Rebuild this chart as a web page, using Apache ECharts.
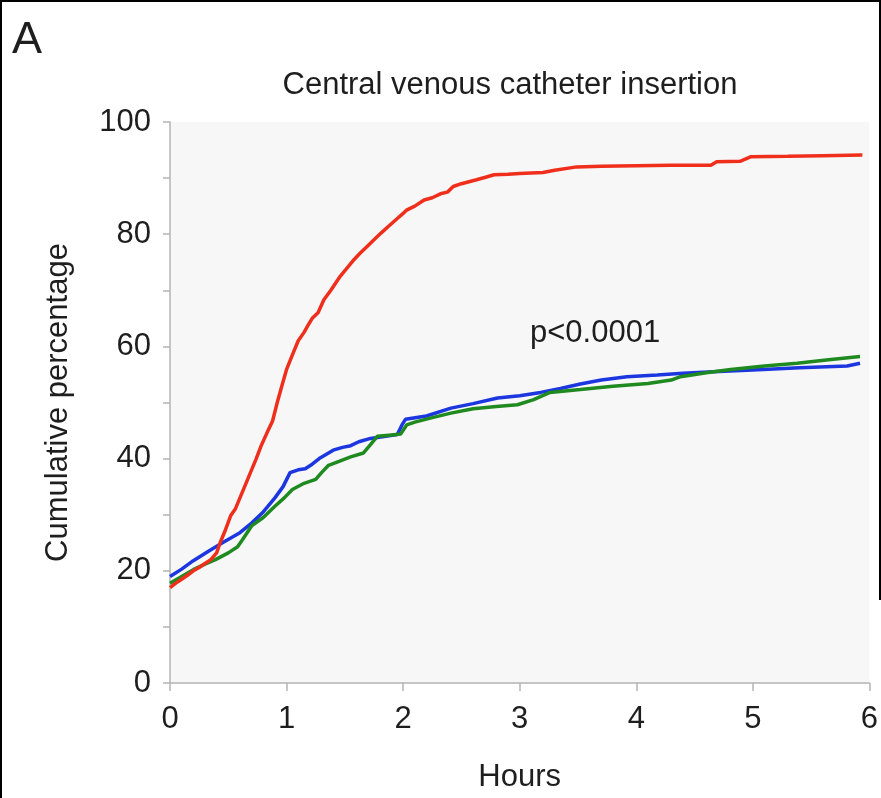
<!DOCTYPE html>
<html>
<head>
<meta charset="utf-8">
<script src="https://cdn.jsdelivr.net/npm/echarts@6/dist/echarts.min.js"></script>
<style>
html,body{margin:0;padding:0;background:#fff;}
#c{width:881px;height:798px;}
</style>
</head>
<body>
<div id="c"></div>
<script>
// Data (hours, cumulative percentage)
const xTicks = [0, 1, 2, 3, 4, 5, 6];
const yTicks = [0, 20, 40, 60, 80, 100];
const redSeries = [[0,17],[0.05,17.8],[0.1,18.5],[0.15,19.2],[0.2,20],[0.25,20.6],[0.3,21.3],[0.35,22],[0.4,23.2],[0.43,25],[0.47,27],[0.52,29.8],[0.56,31],[0.6,33],[0.65,35.5],[0.69,37.5],[0.74,40],[0.78,42.2],[0.83,44.5],[0.88,46.7],[0.92,50],[0.96,53],[1.0,55.9],[1.05,58.5],[1.1,61],[1.15,62.5],[1.18,63.6],[1.22,65],[1.27,66],[1.32,68.3],[1.38,70],[1.46,72.5],[1.52,74],[1.58,75.5],[1.63,76.6],[1.7,78],[1.75,79],[1.81,80.2],[1.88,81.5],[1.95,82.8],[2.0,83.7],[2.03,84.3],[2.1,85],[2.18,86.1],[2.25,86.5],[2.32,87.2],[2.38,87.5],[2.43,88.5],[2.5,89],[2.63,89.7],[2.7,90.1],[2.78,90.6],[2.9,90.7],[3.0,90.8],[3.2,91],[3.3,91.4],[3.49,92],[3.7,92.1],[4.0,92.2],[4.3,92.3],[4.64,92.3],[4.69,92.9],[4.89,93],[4.98,93.8],[5.3,93.9],[5.6,94],[5.94,94.1]];
const blueSeries = [[0,19],[0.1,20.3],[0.2,21.8],[0.33,23.5],[0.45,25],[0.6,26.8],[0.7,28.5],[0.8,30.5],[0.9,33],[0.97,35],[1.03,37.5],[1.1,38],[1.16,38.2],[1.22,39],[1.28,40],[1.4,41.5],[1.48,42],[1.55,42.3],[1.62,43],[1.72,43.6],[1.85,44],[1.95,44.3],[1.99,46],[2.02,47],[2.2,47.6],[2.41,49],[2.6,49.8],[2.81,50.8],[3.0,51.2],[3.18,51.8],[3.35,52.5],[3.52,53.3],[3.7,54],[3.92,54.6],[4.18,54.9],[4.4,55.2],[4.66,55.5],[4.9,55.7],[5.09,55.9],[5.4,56.2],[5.81,56.5],[5.92,57]];
const greenSeries = [[0,17.8],[0.1,19],[0.2,20.2],[0.3,21.2],[0.39,22],[0.5,23.2],[0.58,24.3],[0.62,25.5],[0.7,28],[0.8,29.5],[0.9,31.5],[0.98,33],[1.05,34.5],[1.15,35.6],[1.25,36.3],[1.3,37.5],[1.36,38.8],[1.45,39.5],[1.55,40.3],[1.66,41],[1.72,42.5],[1.78,44],[1.9,44.2],[1.98,44.4],[2.03,46],[2.1,46.5],[2.25,47.3],[2.41,48.1],[2.6,48.9],[2.8,49.3],[2.98,49.6],[3.12,50.5],[3.26,51.8],[3.52,52.3],[3.8,52.9],[4.1,53.4],[4.3,54],[4.38,54.6],[4.6,55.3],[4.81,55.9],[5.1,56.5],[5.38,57],[5.65,57.6],[5.92,58.2]];
const titleText = 'Central venous catheter insertion';
const pText = 'p<0.0001';

const chart = echarts.init(document.getElementById('c'), null, {renderer:'canvas'});
const FONT = 'Liberation Sans, Arial, sans-serif';
const FS = 31;
const TXT = '#1e1e1e';
const AX = '#b4b4b4';
function line(name, data, color){
  return {name, type:'line', data, showSymbol:false, symbol:'none', smooth:false,
    lineStyle:{color, width:3.5}, itemStyle:{color}, animation:false, z:3};
}
chart.setOption({
  animation:false,
  backgroundColor:'#fff',
  title:{text:titleText, left:505, top:80, textAlign:'center', textVerticalAlign:'middle',
    textStyle:{fontFamily:FONT, fontSize:FS, fontWeight:'normal', color:TXT}},
  grid:{left:170, right:11.5, top:122, bottom:114, show:true, backgroundColor:'#f7f7f7', borderWidth:0},
  xAxis:{type:'value', min:0, max:6, interval:1,
    name:'Hours', nameLocation:'middle', nameGap:79,
    nameTextStyle:{fontFamily:FONT, fontSize:FS, color:TXT},
    axisLine:{show:true, onZero:false, lineStyle:{color:AX, width:1.5}},
    axisTick:{show:true, inside:false, length:8, lineStyle:{color:AX, width:1.5}},
    axisLabel:{fontFamily:FONT, fontSize:FS, color:TXT, margin:21},
    splitLine:{show:false}},
  yAxis:{type:'value', min:0, max:100, interval:20,
    name:'Cumulative percentage', nameLocation:'middle', nameGap:96, nameRotate:90,
    nameTextStyle:{fontFamily:FONT, fontSize:FS, color:TXT},
    axisLine:{show:true, lineStyle:{color:AX, width:1.5}},
    axisTick:{show:true, inside:false, length:7, lineStyle:{color:AX, width:1.5}},
    minorTick:{show:true, splitNumber:2, length:7, lineStyle:{color:AX, width:1.5}},
    axisLabel:{fontFamily:FONT, fontSize:FS, color:TXT, margin:19},
    splitLine:{show:false}},
  graphic:[
    {type:'text', left:12, top:18, style:{text:'A', fontFamily:FONT, fontSize:45, fill:TXT}},
    {type:'text', x:530, y:333, style:{text:pText, fontFamily:FONT, fontSize:FS, fill:TXT, textVerticalAlign:'middle'}},
    {type:'rect', shape:{x:0, y:0, width:881, height:2}, style:{fill:'#000'}},
    {type:'rect', shape:{x:0, y:0, width:2, height:798}, style:{fill:'#000'}},
    {type:'rect', shape:{x:879, y:0, width:2, height:600}, style:{fill:'#000'}}
  ],
  series:[
    line('Blue', blueSeries, '#1c36e0'),
    line('Green', greenSeries, '#1f8a1f'),
    line('Red', redSeries, '#ef2f1c')
  ]
});
</script>
</body>
</html>
